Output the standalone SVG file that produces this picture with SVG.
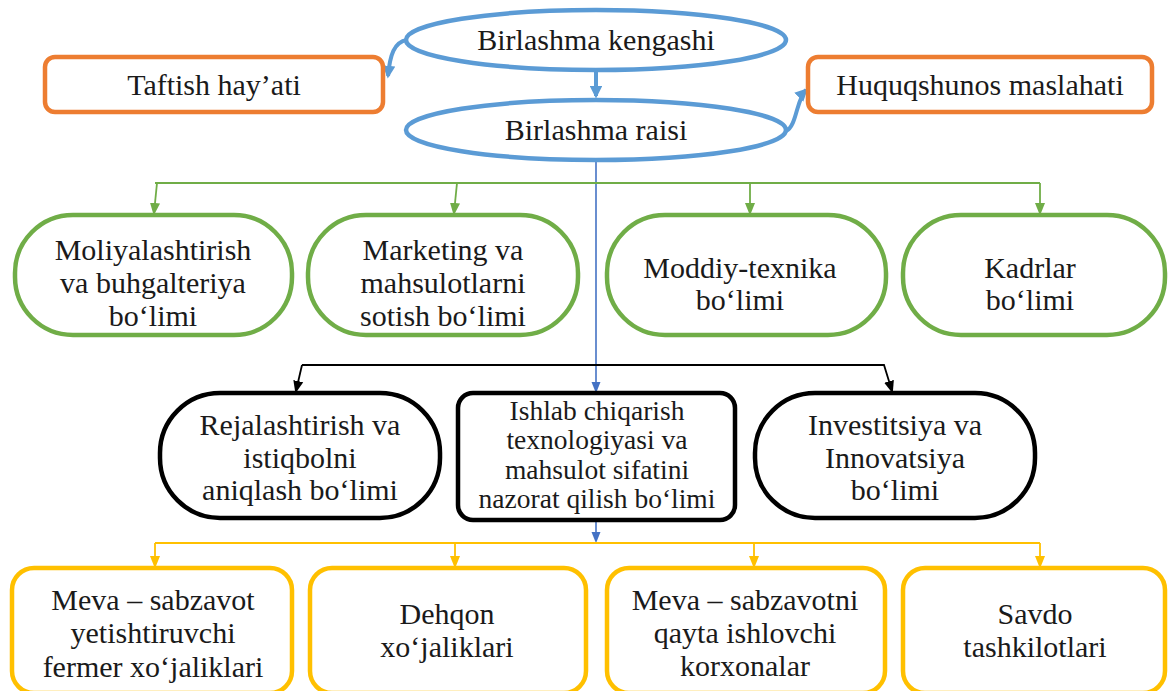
<svg xmlns="http://www.w3.org/2000/svg" width="1172" height="691" viewBox="0 0 1172 691">
<style>
text{font-family:"Liberation Serif","Times New Roman",serif;font-size:30px;fill:#1a1a1a;text-anchor:middle}
.sm{font-size:27.5px}
.ell{fill:#fff;stroke:#5B9BD5;stroke-width:4.5}
.org{fill:#fff;stroke:#ED7D31;stroke-width:4.5}
.grn{fill:#fff;stroke:#70AD47;stroke-width:4.5}
.blk{fill:#fff;stroke:#000;stroke-width:4.5}
.yel{fill:#fff;stroke:#FFC000;stroke-width:4.5}
.c{fill:none}
</style>
<defs>
<marker id="ab" viewBox="0 0 10 10" refX="8" refY="5" markerWidth="3.2" markerHeight="3.2" orient="auto"><path d="M0 0L10 5L0 10z" fill="#5B9BD5"/></marker>
<marker id="abt" viewBox="0 0 10 10" refX="8" refY="5" markerWidth="7" markerHeight="7" orient="auto"><path d="M0 1L10 5L0 9z" fill="#4472C4"/></marker>
<marker id="ag" viewBox="0 0 10 10" refX="8" refY="5" markerWidth="7" markerHeight="7" orient="auto"><path d="M0 1L10 5L0 9z" fill="#70AD47"/></marker>
<marker id="ak" viewBox="0 0 10 10" refX="8" refY="5" markerWidth="7" markerHeight="7" orient="auto"><path d="M0 1L10 5L0 9z" fill="#000"/></marker>
<marker id="ay" viewBox="0 0 10 10" refX="8" refY="5" markerWidth="7" markerHeight="7" orient="auto"><path d="M0 1L10 5L0 9z" fill="#FFC000"/></marker>
</defs>
<g id="connectors" class="c">
<path d="M596 70V96" stroke="#5B9BD5" stroke-width="4" marker-end="url(#ab)"/>
<path d="M407 40C394 42 390 55 388 76" stroke="#5B9BD5" stroke-width="4" marker-end="url(#ab)"/>
<path d="M786 131C797 126 796 100 806 90" stroke="#5B9BD5" stroke-width="4" marker-end="url(#ab)"/>
<path d="M596 160V391" stroke="#4472C4" stroke-width="1.6" marker-end="url(#abt)"/>
<path d="M596 521V541" stroke="#4472C4" stroke-width="1.6" marker-end="url(#abt)"/>
<g stroke="#70AD47" stroke-width="1.8">
<path d="M155 183H1040"/>
<path d="M157 183L154 213" marker-end="url(#ag)"/>
<path d="M457 183L454 213" marker-end="url(#ag)"/>
<path d="M750 183V213" marker-end="url(#ag)"/>
<path d="M1040 183V213" marker-end="url(#ag)"/>
</g>
<g stroke="#000" stroke-width="1.8">
<path d="M302 365H884L892 391" marker-end="url(#ak)"/>
<path d="M302 365L296 391" marker-end="url(#ak)"/>
</g>
<g stroke="#FFC000" stroke-width="1.8">
<path d="M155 543H1040"/>
<path d="M155 543V566" marker-end="url(#ay)"/>
<path d="M455 543V566" marker-end="url(#ay)"/>
<path d="M754 543V566" marker-end="url(#ay)"/>
<path d="M1040 543V566" marker-end="url(#ay)"/>
</g>
</g>
<g id="kengash"><ellipse class="ell" cx="596" cy="40" rx="190" ry="30"/><text x="596" y="50">Birlashma kengashi</text></g>
<g id="taftish"><rect class="org" x="45" y="57" width="338" height="55" rx="10"/><text x="214" y="95">Taftish hay’ati</text></g>
<g id="huquq"><rect class="org" x="808" y="57" width="344" height="55" rx="10"/><text x="980" y="95">Huquqshunos maslahati</text></g>
<g id="raisi"><ellipse class="ell" cx="596" cy="130" rx="190" ry="30"/><text x="596" y="140">Birlashma raisi</text></g>

<g id="moliya"><rect class="grn" x="15" y="215" width="277" height="120" rx="58"/><text x="153" y="260">Moliyalashtirish</text><text x="153" y="293">va buhgalteriya</text><text x="153" y="326">bo‘limi</text></g>
<g id="marketing"><rect class="grn" x="308" y="215" width="270" height="120" rx="58"/><text x="443" y="260">Marketing va</text><text x="443" y="293">mahsulotlarni</text><text x="443" y="326">sotish bo‘limi</text></g>
<g id="moddiy"><rect class="grn" x="607" y="215" width="279" height="120" rx="58"/><text x="740" y="278">Moddiy-texnika</text><text x="740" y="310">bo‘limi</text></g>
<g id="kadrlar"><rect class="grn" x="903" y="215" width="262" height="120" rx="58"/><text x="1030" y="278">Kadrlar</text><text x="1030" y="310">bo‘limi</text></g>

<g id="reja"><rect class="blk" x="160" y="393" width="280" height="125" rx="60"/><text x="300" y="435">Rejalashtirish va</text><text x="300" y="468">istiqbolni</text><text x="300" y="500">aniqlash bo‘limi</text></g>
<g id="ishlab"><rect class="blk" x="458" y="393" width="277" height="127" rx="15"/><text class="sm" x="597" y="420">Ishlab chiqarish</text><text class="sm" x="597" y="449">texnologiyasi va</text><text class="sm" x="597" y="479">mahsulot sifatini</text><text class="sm" x="597" y="508">nazorat qilish bo‘limi</text></g>
<g id="invest"><rect class="blk" x="755" y="393" width="280" height="125" rx="60"/><text x="895" y="435">Investitsiya va</text><text x="895" y="468">Innovatsiya</text><text x="895" y="500">bo‘limi</text></g>

<g id="meva1"><rect class="yel" x="12" y="568" width="280" height="125" rx="22"/><text x="153" y="610">Meva – sabzavot</text><text x="153" y="643">yetishtiruvchi</text><text x="153" y="677">fermer xo‘jaliklari</text></g>
<g id="dehqon"><rect class="yel" x="310" y="568" width="276" height="125" rx="22"/><text x="447" y="624">Dehqon</text><text x="447" y="657">xo‘jaliklari</text></g>
<g id="meva2"><rect class="yel" x="607" y="568" width="278" height="125" rx="22"/><text x="745" y="610">Meva – sabzavotni</text><text x="745" y="643">qayta ishlovchi</text><text x="745" y="676">korxonalar</text></g>
<g id="savdo"><rect class="yel" x="903" y="568" width="262" height="125" rx="22"/><text x="1035" y="624">Savdo</text><text x="1035" y="657">tashkilotlari</text></g>
</svg>
